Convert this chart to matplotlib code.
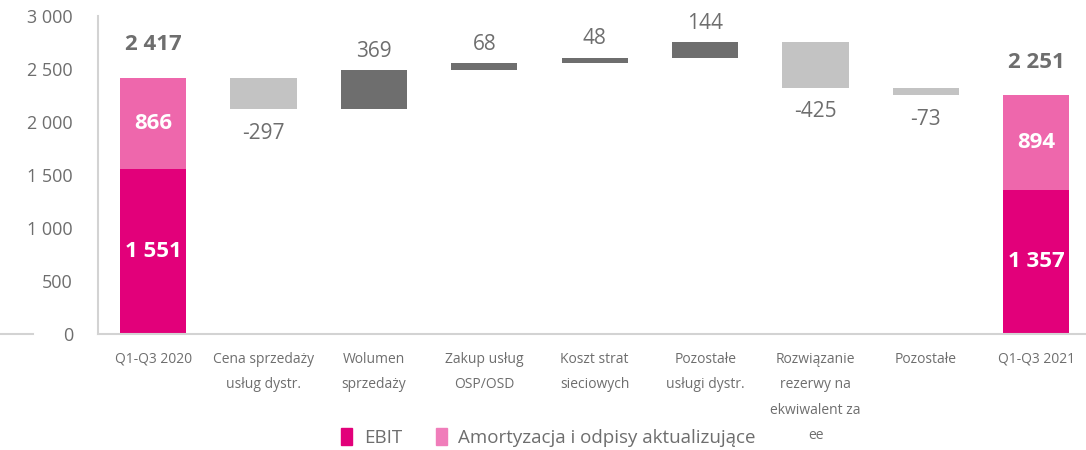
import matplotlib.pyplot as plt
from matplotlib.lines import Line2D
from matplotlib.patches import Patch

plt.rcParams['font.family'] = ['Open Sans', 'DejaVu Sans']

# data
categories = ['Q1-Q3 2020', 'Cena sprzedaży\nusług dystr.', 'Wolumen\nsprzedaży',
              'Zakup usług\nOSP/OSD', 'Koszt strat\nsieciowych', 'Pozostałe\nusługi dystr.',
              'Rozwiązanie\nrezerwy na\nekwiwalent za\nee', 'Pozostałe', 'Q1-Q3 2021']
ebit = [1551, 1357]
amort = [866, 894]
changes = [-297, 369, 68, 48, 144, -425, -73]
yticks = [0, 500, 1000, 1500, 2000, 2500, 3000]

c_ebit = '#E2007A'
c_amort = '#EE67AC'
c_pos = '#6E6E6E'
c_neg = '#C3C3C3'
c_text = '#6E6E6E'
c_axis = '#D3D3D3'


def fmt(v):
    return '{:,}'.format(v).replace(',', ' ')


fig = plt.figure(figsize=(10.86, 4.5), dpi=100)
ax = fig.add_axes([0.0902, 0.258, 0.9098, 0.7067])

# totals (stacked)
for i, pos in enumerate([0, len(categories) - 1]):
    ax.bar(pos, ebit[i], width=0.6, color=c_ebit)
    ax.bar(pos, amort[i], bottom=ebit[i], width=0.6, color=c_amort)
    ax.text(pos, ebit[i] / 2, fmt(ebit[i]), ha='center', va='center',
            color='white', fontsize=16, fontweight='bold')
    ax.text(pos, ebit[i] + amort[i] / 2, fmt(amort[i]), ha='center', va='center',
            color='white', fontsize=16, fontweight='bold')
    ax.annotate(fmt(ebit[i] + amort[i]), (pos, ebit[i] + amort[i]),
                xytext=(0, 16), textcoords='offset points', ha='center', va='bottom',
                color=c_text, fontsize=16, fontweight='bold')

# waterfall steps
level = ebit[0] + amort[0]
for j, ch in enumerate(changes):
    pos = j + 1
    bottom = level if ch > 0 else level + ch
    ax.bar(pos, abs(ch), bottom=bottom, width=0.6, color=c_pos if ch > 0 else c_neg)
    if ch > 0:
        ax.annotate(fmt(ch), (pos, level + ch), xytext=(0, 6), textcoords='offset points',
                    ha='center', va='bottom', color=c_text, fontsize=15)
    else:
        ax.annotate('-' + fmt(-ch), (pos, level + ch), xytext=(0, -10), textcoords='offset points',
                    ha='center', va='top', color=c_text, fontsize=15)
    level += ch

ax.set_xlim(-0.5, 8.45)
ax.set_ylim(0, 3000)
ax.set_yticks(yticks)
ax.set_yticklabels([fmt(t) for t in yticks])
ax.set_xticks(range(len(categories)))
ax.set_xticklabels(categories, linespacing=1.95, va='top')
ax.tick_params(axis='y', length=0, pad=18, labelsize=13, labelcolor=c_text)
ax.tick_params(axis='x', length=0, pad=13, labelsize=10, labelcolor=c_text)
for s in ['top', 'right']:
    ax.spines[s].set_visible(False)
for s in ['left', 'bottom']:
    ax.spines[s].set_color(c_axis)
    ax.spines[s].set_linewidth(1.5)

# short stub line on the far left
fig.add_artist(Line2D([0.0, 0.03], [0.258, 0.258], color=c_axis, lw=1.5,
                      transform=fig.transFigure))

handles = [Patch(color=c_ebit, label='EBIT'),
           Patch(color='#F07DBA', label='Amortyzacja i odpisy aktualizujące')]
fig.legend(handles=handles, loc='center', bbox_to_anchor=(0.505, 0.027), ncol=2,
           frameon=False, fontsize=13.5, labelcolor=c_text, handlelength=0.6,
           handleheight=1.0, handletextpad=0.6, columnspacing=1.8)

fig.savefig('out.png', dpi=100)
